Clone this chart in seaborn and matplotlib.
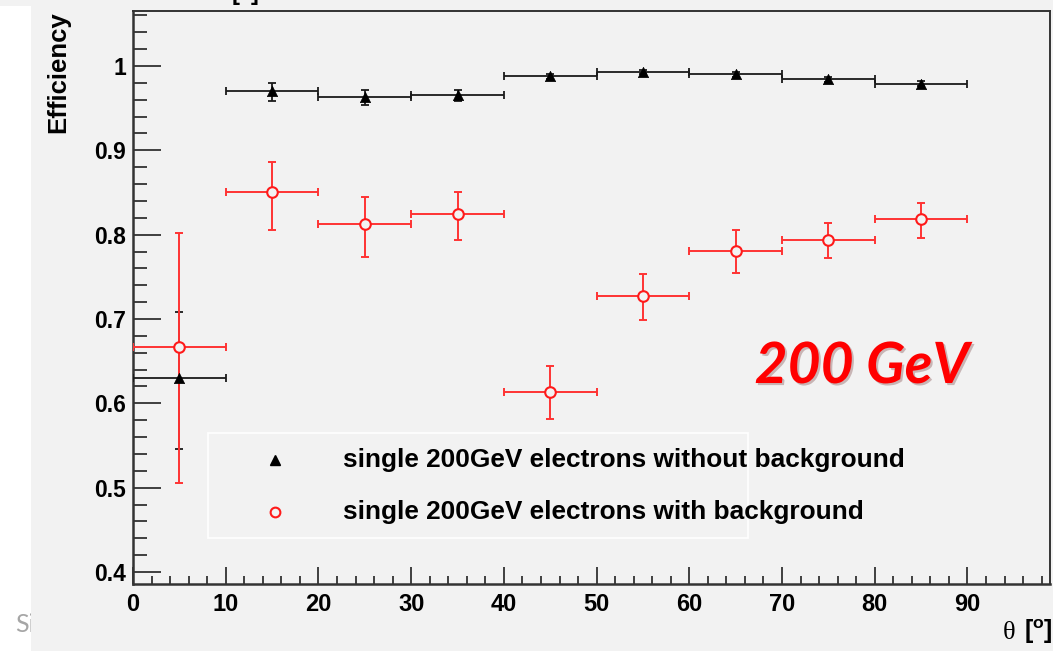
import numpy as np
import pandas as pd
import matplotlib
matplotlib.use("Agg")
import matplotlib.pyplot as plt
import matplotlib.patheffects as pe
from matplotlib.patches import Rectangle
from matplotlib.ticker import MultipleLocator, FixedLocator, FuncFormatter
import seaborn as sns

# ---------------- data ----------------
theta = [5, 15, 25, 35, 45, 55, 65, 75, 85]
bin_half = [5, 5, 5, 5, 5, 5, 5, 5, 5]

eff_nobg = [0.630, 0.970, 0.963, 0.966, 0.988, 0.993, 0.990, 0.984, 0.979]
err_nobg_lo = [0.084, 0.012, 0.009, 0.008, 0.003, 0.002, 0.003, 0.003, 0.003]
err_nobg_hi = [0.078, 0.010, 0.008, 0.006, 0.003, 0.002, 0.003, 0.003, 0.003]

eff_bg = [0.667, 0.850, 0.813, 0.824, 0.613, 0.727, 0.781, 0.794, 0.819]
err_bg_lo = [0.162, 0.045, 0.039, 0.030, 0.032, 0.028, 0.026, 0.022, 0.023]
err_bg_hi = [0.135, 0.036, 0.032, 0.027, 0.031, 0.026, 0.024, 0.020, 0.019]

label_nobg = "single 200GeV electrons without background"
label_bg = "single 200GeV electrons with background"
x_ticks = [0, 10, 20, 30, 40, 50, 60, 70, 80, 90]
y_ticks = [0.4, 0.5, 0.6, 0.7, 0.8, 0.9, 1.0]

df_nobg = pd.DataFrame({"theta": theta, "eff": eff_nobg})
df_bg = pd.DataFrame({"theta": theta, "eff": eff_bg})

# ---------------- style ----------------
sns.set_theme(style="ticks")
plt.rcParams["font.family"] = ["Liberation Sans", "DejaVu Sans"]
plt.rcParams["text.color"] = "black"
plt.rcParams["axes.labelcolor"] = "black"
plt.rcParams["mathtext.fontset"] = "custom"
plt.rcParams["mathtext.bf"] = "Liberation Sans:bold"
plt.rcParams["mathtext.rm"] = "Liberation Sans"

BG = "#f2f2f2"
W, H = 1053, 651
fig = plt.figure(figsize=(W / 100, H / 100), dpi=100, facecolor="white")

# slide remnants: white strip on the left with cropped grey text, grey canvas elsewhere
fig.text(15 / W, 1 - 632 / H, "Si", fontsize=18, color="#a6a6a6",
         family=["Lato", "DejaVu Sans"], va="baseline", ha="left", zorder=-2)
fig.patches.append(Rectangle((31 / W, 0), 1 - 31 / W, 1, transform=fig.transFigure,
                             facecolor=BG, edgecolor="none", zorder=-1))
fig.patches.append(Rectangle((0, 1 - 6 / H), 31 / W, 6 / H, transform=fig.transFigure,
                             facecolor=BG, edgecolor="none", zorder=-1))

ax = fig.add_axes([133 / W, 1 - 583.7 / H, (1050 - 133) / W, (583.7 - 11) / H])
ax.set_facecolor(BG)

# ---------------- data drawing ----------------
black = "#1a1a1a"
red = "#ff3333"

ax.errorbar(theta, eff_nobg, xerr=bin_half, yerr=[err_nobg_lo, err_nobg_hi],
            fmt="none", ecolor=black, elinewidth=1.3, capsize=3, capthick=1.3, zorder=3)
ax.errorbar(theta, eff_bg, xerr=bin_half, yerr=[err_bg_lo, err_bg_hi],
            fmt="none", ecolor=red, elinewidth=1.4, capsize=3, capthick=1.4, zorder=4)

sns.scatterplot(data=df_nobg, x="theta", y="eff", marker="^", s=55, color="black",
                edgecolor="black", linewidth=0.5, ax=ax, zorder=5, legend=False)
sns.scatterplot(data=df_bg, x="theta", y="eff", marker="o", s=58, facecolor=BG,
                edgecolor="#ff1a1a", linewidth=1.5, ax=ax, zorder=6, legend=False)

# ---------------- axes ----------------
ax.set_xlim(0, 98.9)
ax.set_ylim(0.3861, 1.0652)
ax.xaxis.set_major_locator(FixedLocator(x_ticks))
ax.xaxis.set_minor_locator(MultipleLocator(2))
ax.yaxis.set_major_locator(FixedLocator(y_ticks))
ax.yaxis.set_minor_locator(MultipleLocator(0.02))
ax.yaxis.set_major_formatter(FuncFormatter(lambda v, p: f"{v:g}"))
ax.xaxis.set_major_formatter(FuncFormatter(lambda v, p: f"{v:g}"))

ax.tick_params(axis="y", which="major", direction="in", length=20, width=1.2,
               color="#222222", labelsize=16.5, pad=5, left=True, right=False,
               labelcolor="black")
ax.tick_params(axis="y", which="minor", direction="in", length=10, width=1.2,
               color="#222222", left=True, right=False)
ax.tick_params(axis="x", which="major", direction="in", length=12, width=1.2,
               color="#222222", labelsize=17, pad=7, bottom=True, top=False,
               labelcolor="black")
ax.tick_params(axis="x", which="minor", direction="in", length=6, width=1.2,
               color="#222222", bottom=True, top=False)
for lab in ax.get_xticklabels() + ax.get_yticklabels():
    lab.set_fontweight("bold")

for side in ["left", "bottom", "top", "right"]:
    ax.spines[side].set_visible(True)
    ax.spines[side].set_color("#333333")
ax.spines["left"].set_linewidth(1.8)
ax.spines["bottom"].set_linewidth(1.8)
ax.spines["top"].set_linewidth(1.4)
ax.spines["right"].set_linewidth(1.4)

ax.set_ylabel("Efficiency", fontsize=18.5, fontweight="bold", loc="top", color="black")
ax.yaxis.label.set_va("center")
ax.yaxis.set_label_coords(-0.0818, 1.0)
ax.set_xlabel("")

# x-axis title at bottom right
fig.text(1003 / W, 1 - 639 / H, "θ", fontsize=19, family=["Liberation Serif", "DejaVu Serif"],
         va="baseline", ha="left", color="black")
fig.text(1024 / W, 1 - 639 / H, r"[$^{\mathbf{o}}$]", fontsize=18, fontweight="bold",
         va="baseline", ha="left", color="black")
# cropped title remnant at the very top (as in the source screenshot)
fig.text(212 / W, 1 - 1 / H, r"θ [$^{\mathbf{o}}$]", fontsize=17, fontweight="bold",
         va="baseline", ha="left", color="black")

# ---------------- legend box ----------------
lx0, lx1 = 0.0818, 0.6707
ly0, ly1 = 0.0798, 0.2631
ax.add_patch(Rectangle((lx0, ly0), lx1 - lx0, ly1 - ly0, transform=ax.transAxes,
                       facecolor=BG, edgecolor="white", linewidth=1.2, zorder=7))
ax.plot([0.1549], [0.216], transform=ax.transAxes, marker="^", ms=7, color="black",
        linestyle="none", zorder=8)
ax.plot([0.1549], [0.1252], transform=ax.transAxes, marker="o", ms=7, mfc=BG,
        mec="#ff1a1a", mew=1.5, linestyle="none", zorder=8)
ax.text(0.229, 0.216, label_nobg, transform=ax.transAxes, fontsize=18.9,
        fontweight="bold", va="center", ha="left", zorder=8, color="black")
ax.text(0.229, 0.1252, label_bg, transform=ax.transAxes, fontsize=18.9,
        fontweight="bold", va="center", ha="left", zorder=8, color="black")

# ---------------- annotation ----------------
ax.text(0.795, 0.3504, "200 GeV", transform=ax.transAxes, fontsize=41,
        family=["Lato", "DejaVu Sans"], fontweight="bold", fontstyle="italic",
        color="#ff0000", ha="center", va="baseline", zorder=8,
        path_effects=[pe.SimplePatchShadow(offset=(1.5, -1.5), alpha=0.25),
                      pe.Normal()])

fig.savefig("out.png", dpi=100, facecolor=fig.get_facecolor())
